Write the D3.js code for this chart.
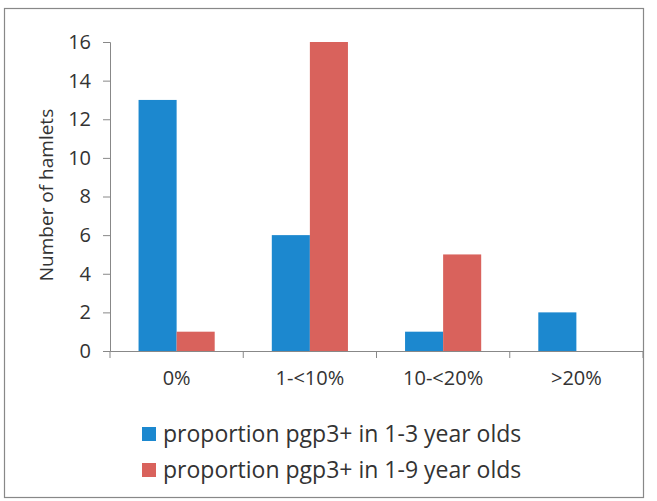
<!DOCTYPE html>
<html>
<head>
<meta charset="utf-8">
<script src="https://cdn.jsdelivr.net/npm/d3@7"></script>
<style>
body{margin:0;background:#fff;}
text{font-family:"Open Sans",sans-serif;fill:#333;}
</style>
</head>
<body>
<svg id="c" width="657" height="501"></svg>
<script>
const categories = ["0%", "1-<10%", "10-<20%", ">20%"];
const seriesNames = ["proportion pgp3+ in 1-3 year olds", "proportion pgp3+ in 1-9 year olds"];
const values13 = [13, 6, 1, 2];
const values19 = [1, 16, 5, 0];
const yTicks = [0, 2, 4, 6, 8, 10, 12, 14, 16];
const colors = ["#1c88cf", "#d9625c"];

const svg = d3.select("#c");
const m = {left:110, right:643, top:42, bottom:351};

svg.append("rect").attr("x",4.5).attr("y",8.5).attr("width",639).attr("height",489)
  .attr("fill","#fff").attr("stroke","#888").attr("stroke-width",1.2);

const x = d3.scaleBand().domain(categories).range([m.left, m.right]);
const x1 = d3.scaleBand().domain([0,1]).range([0, x.bandwidth()]).paddingInner(0).paddingOuter(0.75);
const y = d3.scaleLinear().domain([0,16]).range([m.bottom, m.top]);

const series = [values13, values19];
series.forEach((vals, si) => {
  svg.append("g").selectAll("rect").data(vals).join("rect")
    .attr("x", (d,i) => x(categories[i]) + x1(si))
    .attr("width", x1.bandwidth())
    .attr("y", d => y(d))
    .attr("height", d => y(0) - y(d))
    .attr("fill", colors[si]);
});

const ya = svg.append("g").attr("transform",`translate(${m.left},0)`)
  .call(d3.axisLeft(y).tickValues(yTicks).tickSize(7).tickPadding(12));
ya.select(".domain").attr("stroke","#888");
ya.selectAll(".tick line").attr("stroke","#888");
ya.selectAll("text").style("font-size","20px").attr("fill","#333");

const xa = svg.append("g").attr("transform",`translate(0,${m.bottom})`)
  .call(d3.axisBottom(x).tickSize(0).tickPadding(20));
xa.select(".domain").attr("stroke","#888");
xa.selectAll("text").style("font-size","20px").attr("fill","#333");
const bounds = categories.map(c => x(c)).concat([m.right]);
svg.append("g").selectAll("line").data(bounds).join("line")
  .attr("x1", d=>d).attr("x2", d=>d).attr("y1", m.bottom).attr("y2", m.bottom+7)
  .attr("stroke","#888");

svg.append("text").attr("transform",`translate(53,195) rotate(-90)`)
  .attr("text-anchor","middle").style("font-size","19px").text("Number of hamlets");

const leg = svg.append("g");
seriesNames.forEach((n,i) => {
  const cy = 434 + i*36;
  leg.append("rect").attr("x",142).attr("y",cy-7).attr("width",14).attr("height",14).attr("fill",colors[i]);
  leg.append("text").attr("x",163).attr("y",cy).attr("dy","0.35em").style("font-size","23px").text(n);
});
</script>
</body>
</html>
